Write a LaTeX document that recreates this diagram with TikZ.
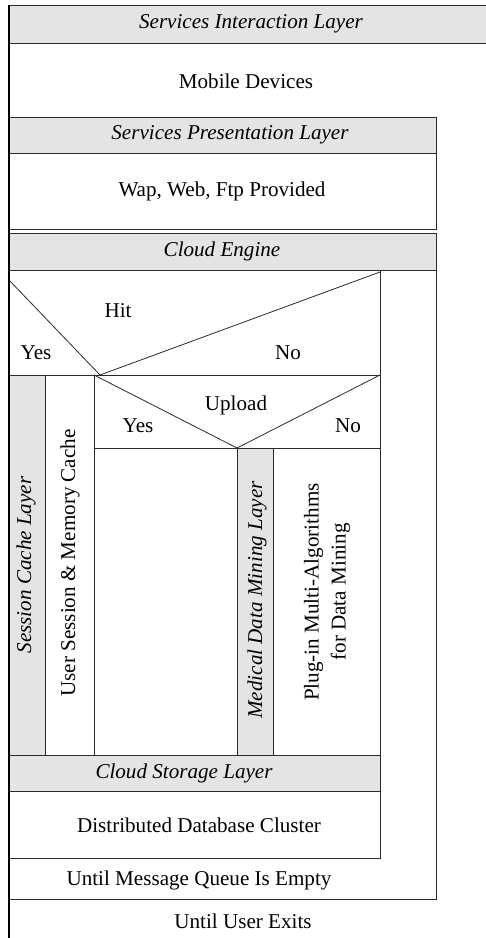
\documentclass[tikz,border=0pt]{standalone}
\usepackage{fontspec}
\setmainfont{Liberation Serif}
\definecolor{bandgray}{HTML}{E4E4E4}
\definecolor{rule}{HTML}{2A2A2A}
\begin{document}
\begin{tikzpicture}[x=1pt,y=-1pt,
  txt/.style={inner sep=0pt,font=\fontsize{21.1}{27}\selectfont},
  ital/.style={txt,font=\fontsize{21.1}{27}\selectfont\itshape},
  vert/.style={rotate=90},
  box/.style={draw=rule,line width=0.9pt},
  band/.style={box,fill=bandgray},
  thin/.style={draw=rule,line width=0.8pt}]
\useasboundingbox (0,0) rectangle (486,938);
\fill[white] (0,0) rectangle (486,938);

% outer loop: until the user exits
\fill[bandgray] (9,5) rectangle (486,43);
\draw[thin] (9,5) -- (486,5);
\draw[thin] (9,43) -- (486,43);
\node[ital] (sil) at (251,24) {Services Interaction Layer};
\node[txt] (mob) at (246,81) {Mobile Devices};

% presentation layer
\draw[box] (9,117) rectangle (436,229);
\draw[band] (9,117) rectangle (436,153);
\node[ital] (spl) at (230,135) {Services Presentation Layer};
\node[txt] (wap) at (222,191) {Wap, Web, Ftp Provided};

% inner loop: until the message queue is empty
\draw[box] (9,233) rectangle (436,899);
\draw[band] (9,233) rectangle (436,270);
\node[ital] (ce) at (222,251) {Cloud Engine};

% hit decision
\draw[box] (9,270) rectangle (380,858);
\draw[thin] (9,280) -- (100,375) -- (380,272);
\draw[box] (9,375) -- (380,375);
\node[txt] (hit) at (118,311) {Hit};
\node[txt] (hyes) at (36,353) {Yes};
\node[txt] (hno) at (288,353) {No};

% cache branch
\draw[band] (9,375) rectangle (45,755);
\draw[box] (45,375) rectangle (94,755);
\node[ital,vert] (scl) at (26,565) {Session Cache Layer};
\node[txt,vert] (usm) at (70,563) {User Session \& Memory Cache};

% upload decision
\draw[box] (94,375) rectangle (380,448);
\draw[thin] (94,375) -- (237,448) -- (380,375);
\node[txt] (up) at (236,405) {Upload};
\node[txt] (uyes) at (138,426) {Yes};
\node[txt] (uno) at (348,426) {No};

% mining branch
\draw[box] (94,448) rectangle (380,755);
\draw[band] (237,448) rectangle (273,755);
\node[ital,vert] (mdm) at (257,600) {Medical Data Mining Layer};
\node[txt,vert,align=center] (plug) at (327,592) {Plug-in Multi-Algorithms\\for Data Mining};

% storage
\draw[band] (9,755) rectangle (380,791);
\node[ital] (csl) at (184,773) {Cloud Storage Layer};
\node[txt] (ddc) at (199,825) {Distributed Database Cluster};

% loop conditions
\node[txt] (umq) at (199,880) {Until Message Queue Is Empty};
\node[txt] (uue) at (243,921) {Until User Exits};

% left bar of the outer loop
\draw[draw=black,line width=2pt] (9,5) -- (9,938);
\end{tikzpicture}
\end{document}
